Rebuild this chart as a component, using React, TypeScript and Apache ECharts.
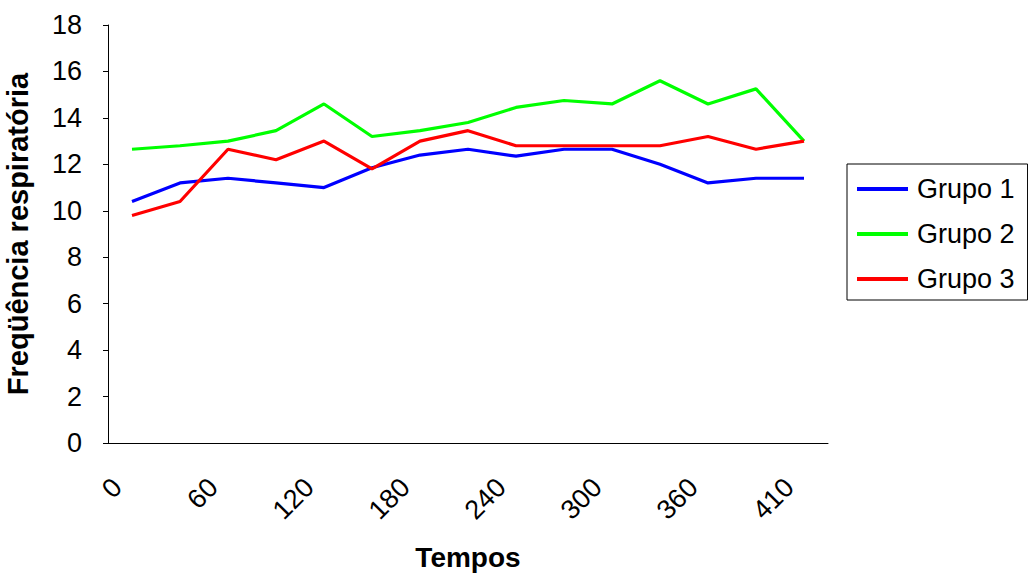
import React, { useEffect, useRef } from "react";
import * as echarts from "echarts";

const categories = ["0", "30", "60", "90", "120", "150", "180", "210", "240", "270", "300", "330", "360", "390", "410"];
const grupo1 = [10.4, 11.2, 11.4, 11.2, 11.0, 11.85, 12.4, 12.65, 12.35, 12.65, 12.65, 12.0, 11.2, 11.4, 11.4];
const grupo2 = [12.65, 12.8, 13.0, 13.45, 14.6, 13.2, 13.45, 13.8, 14.45, 14.75, 14.6, 15.6, 14.6, 15.25, 13.0];
const grupo3 = [9.8, 10.4, 12.65, 12.2, 13.0, 11.8, 13.0, 13.45, 12.8, 12.8, 12.8, 12.8, 13.2, 12.65, 13.0];
const yTicks = { min: 0, max: 18, interval: 2 };

const FONT = "'Liberation Sans', Arial, sans-serif";

export default function App() {
  const ref = useRef<HTMLDivElement>(null);
  useEffect(() => {
    if (!ref.current) return;
    const chart = echarts.init(ref.current, undefined, { renderer: "svg" });
    const mk = (name: string, data: number[], color: string) => ({
      name,
      type: "line",
      data,
      symbol: "none",
      lineStyle: { color, width: 3.2 },
      itemStyle: { color },
    });
    chart.setOption({
      animation: false,
      backgroundColor: "#ffffff",
      textStyle: { fontFamily: FONT },
      title: {
        text: "Tempos",
        left: 468,
        top: 543,
        textAlign: "center",
        padding: 0,
        textStyle: { fontFamily: FONT, fontSize: 28, fontWeight: "bold", color: "#000" },
      },
      grid: { left: 108, right: 200, top: 25, bottom: 131, containLabel: false, outerBoundsMode: "none" },
      legend: {
        orient: "vertical",
        left: 847,
        top: 164,
        padding: [11.5, 13, 7.5, 10],
        itemGap: 18,
        itemWidth: 51,
        itemHeight: 4,
        icon: "rect",
        borderColor: "#000",
        borderWidth: 1,
        textStyle: { fontFamily: FONT, fontSize: 27, color: "#000", padding: [0, 0, 0, 4] },
        data: ["Grupo 1", "Grupo 2", "Grupo 3"],
      },
      xAxis: {
        type: "category",
        data: categories,
        boundaryGap: true,
        axisLine: { lineStyle: { color: "#000", width: 1 } },
        axisTick: { interval: 0, length: 5, lineStyle: { color: "#000" } },
        axisLabel: {
          interval: 1,
          rotate: 45,
          margin: 25,
          padding: [0, 21, 0, 0],
          fontFamily: FONT,
          fontSize: 27,
          color: "#000",
        },
        splitLine: { show: false },
      },
      yAxis: {
        type: "value",
        min: yTicks.min,
        max: yTicks.max,
        interval: yTicks.interval,
        name: "Freqüência respiratória",
        nameLocation: "middle",
        nameGap: 76,
        nameRotate: 90,
        nameTextStyle: { fontFamily: FONT, fontSize: 29, fontWeight: "bold", color: "#000" },
        axisLine: { show: true, lineStyle: { color: "#000", width: 1 } },
        axisTick: { show: true, length: 5, lineStyle: { color: "#000" } },
        axisLabel: { margin: 26, fontFamily: FONT, fontSize: 27, color: "#000" },
        splitLine: { show: false },
      },
      series: [
        mk("Grupo 1", grupo1, "#0000ff"),
        mk("Grupo 2", grupo2, "#00ff00"),
        mk("Grupo 3", grupo3, "#ff0000"),
      ],
    });
    return () => chart.dispose();
  }, []);
  return <div ref={ref} style={{ position: "absolute", left: 0, top: 0, width: 1028, height: 574 }} />;
}
